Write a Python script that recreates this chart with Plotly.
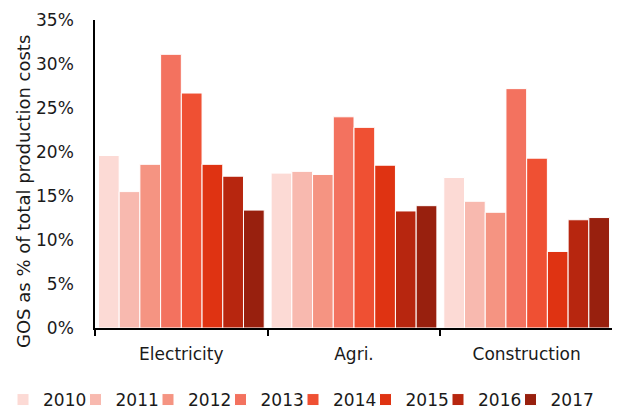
import plotly.graph_objects as go

categories = ["Electricity", "Agri.", "Construction"]
years = ["2010", "2011", "2012", "2013", "2014", "2015", "2016", "2017"]
values = {
    "2010": [19.6, 17.6, 17.1],
    "2011": [15.5, 17.8, 14.4],
    "2012": [18.6, 17.45, 13.15],
    "2013": [31.1, 24.0, 27.2],
    "2014": [26.7, 22.8, 19.3],
    "2015": [18.6, 18.5, 8.7],
    "2016": [17.25, 13.3, 12.3],
    "2017": [13.4, 13.9, 12.55],
}
colors = ["#FCDAD5", "#F8B9AF", "#F59482", "#F3725F", "#EF5033", "#DF3312", "#B7260F", "#98200E"]
y_title = "GOS as % of total production costs"

font = "DejaVu Sans, sans-serif"
# page body has an 8px margin, so the figure is offset by (8, 8)
W, H = 612, 403
L, R, T, B = 87, 7, 12, 83
pw, ph = W - L - R, H - T - B
legend_start = -5
legend_step = 72.5

fig = go.Figure()
legends = {}
for i, (y, c) in enumerate(zip(years, colors)):
    key = "legend" if i == 0 else f"legend{i + 1}"
    fig.add_trace(go.Bar(
        name=y, x=categories, y=[v / 100 for v in values[y]],
        marker=dict(color=c, line=dict(color="white", width=1)),
        legend=key,
    ))
    legends[key] = dict(
        orientation="h", xref="paper",
        x=(legend_start + i * legend_step - L) / pw, xanchor="left",
        yref="paper", y=(T + ph - 374) / ph, yanchor="top",
        font=dict(size=17), itemwidth=30, bgcolor="rgba(0,0,0,0)",
    )

fig.update_layout(
    width=W, height=H,
    margin=dict(l=L, r=R, t=T, b=B, autoexpand=False),
    paper_bgcolor="white", plot_bgcolor="white",
    barmode="group", bargap=0.04, bargroupgap=0.0,
    font=dict(family=font, size=17, color="#1a1a1a"),
    showlegend=True,
    **legends,
)
fig.update_xaxes(
    showline=True, linecolor="black", linewidth=1.5,
    ticks="outside", tickson="boundaries", ticklen=6, tickcolor="black", tickwidth=1.5,
    tickfont=dict(size=17), showgrid=False, ticklabelstandoff=10,
)
fig.update_yaxes(
    range=[0, 0.35], dtick=0.05, tickformat=".0%",
    showline=True, linecolor="black", linewidth=1.5,
    ticks="", showgrid=False, zeroline=False,
    tickfont=dict(size=17), ticklabelstandoff=16,
)
fig.add_annotation(
    text=y_title, textangle=-90, showarrow=False,
    xref="paper", yref="paper",
    x=(15 - L) / pw, y=(T + ph - 184) / ph, xanchor="center", yanchor="middle",
    font=dict(size=18),
)
fig.write_html("out.html")
